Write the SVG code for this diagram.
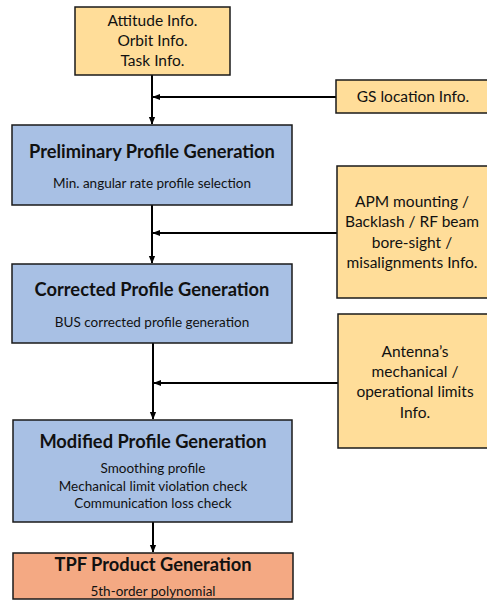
<svg xmlns="http://www.w3.org/2000/svg" width="487" height="600" viewBox="0 0 487 600">
<defs>
<marker id="ah" viewBox="0 0 10 10" refX="9" refY="5" markerWidth="4" markerHeight="4" orient="auto-start-reverse" markerUnits="strokeWidth">
<path d="M0,1 L10,5 L0,9 z" fill="#000"/>
</marker>
</defs>
<style>
.y{fill:#FFDD99;stroke:#1a1a1a;stroke-width:1.5}
.b{fill:#A8C0E4;stroke:#1a1a1a;stroke-width:1.5}
.o{fill:#F4A983;stroke:#1a1a1a;stroke-width:1.5}
text{font-family:Lato,"Open Sans",sans-serif;fill:#111;text-anchor:middle}
.t{font-size:18.3px;font-weight:bold}
.s{font-size:13.5px}
.i{font-size:15.5px}
.c{stroke:#000;stroke-width:2;fill:none;marker-end:url(#ah)}
</style>
<rect width="487" height="600" fill="#fff"/>
<g id="connectors">
<line class="c" x1="152" y1="75" x2="152" y2="124"/>
<line class="c" x1="336" y1="97" x2="153" y2="97"/>
<line class="c" x1="152" y1="205" x2="152" y2="263"/>
<line class="c" x1="337" y1="233" x2="153" y2="233"/>
<line class="c" x1="153" y1="343" x2="153" y2="419"/>
<line class="c" x1="338" y1="383" x2="154" y2="383"/>
<line class="c" x1="153" y1="522" x2="153" y2="552"/>
</g>
<g id="inputs">
<rect class="y" x="75" y="7" width="155" height="68"/>
<text class="i" x="152.5" y="26">Attitude Info.</text>
<text class="i" x="152.5" y="46">Orbit Info.</text>
<text class="i" x="152.5" y="66">Task Info.</text>
</g>
<g id="gs">
<rect class="y" x="336" y="80" width="160" height="33"/>
<text class="i" x="413" y="102">GS location Info.</text>
</g>
<g id="preliminary">
<rect class="b" x="12" y="125" width="280" height="80"/>
<text class="t" x="152" y="158">Preliminary Profile Generation</text>
<text class="s" x="152" y="188">Min. angular rate profile selection</text>
</g>
<g id="apm">
<rect class="y" x="337" y="166" width="160" height="132"/>
<text class="i" x="412" y="207">APM mounting /</text>
<text class="i" x="412" y="227">Backlash / RF beam</text>
<text class="i" x="412" y="248">bore-sight /</text>
<text class="i" x="412" y="268">misalignments Info.</text>
</g>
<g id="corrected">
<rect class="b" x="12" y="264" width="280" height="79"/>
<text class="t" x="152" y="296">Corrected Profile Generation</text>
<text class="s" x="152" y="327">BUS corrected profile generation</text>
</g>
<g id="antenna">
<rect class="y" x="338" y="314" width="160" height="134"/>
<text class="i" x="415" y="357">Antenna’s</text>
<text class="i" x="415" y="377">mechanical /</text>
<text class="i" x="415" y="397">operational limits</text>
<text class="i" x="415" y="418">Info.</text>
</g>
<g id="modified">
<rect class="b" x="13" y="420" width="279" height="102"/>
<text class="t" x="153" y="448">Modified Profile Generation</text>
<text class="s" x="153" y="473">Smoothing profile</text>
<text class="s" x="153" y="491">Mechanical limit violation check</text>
<text class="s" x="153" y="508">Communication loss check</text>
</g>
<g id="tpf">
<rect class="o" x="13" y="553" width="280" height="46"/>
<text class="t" x="153" y="571">TPF Product Generation</text>
<text class="s" x="153" y="596">5th-order polynomial</text>
</g>
</svg>
